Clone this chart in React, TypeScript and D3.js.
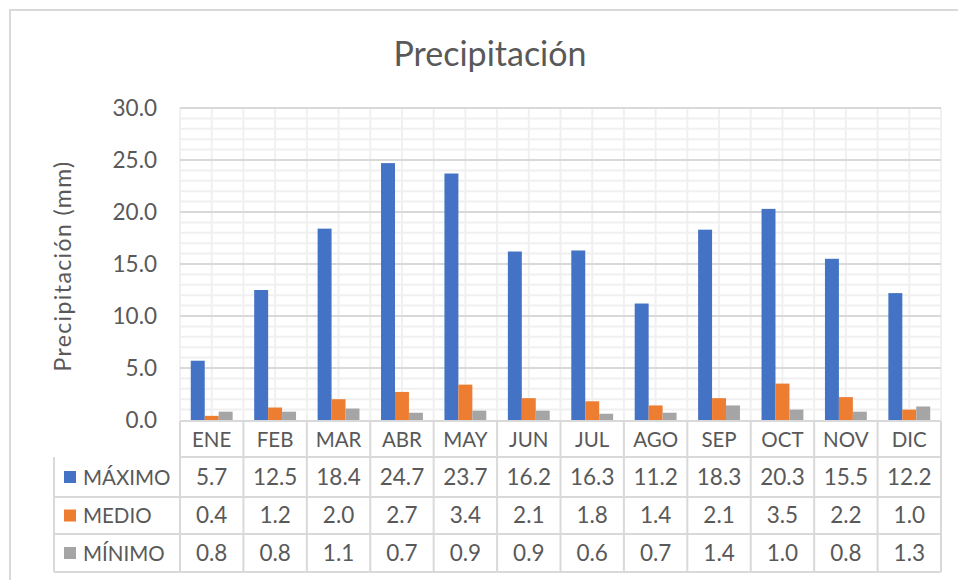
import React from "react";
import * as d3 from "d3";

const months = ["ENE","FEB","MAR","ABR","MAY","JUN","JUL","AGO","SEP","OCT","NOV","DIC"];
const maximo = [5.7,12.5,18.4,24.7,23.7,16.2,16.3,11.2,18.3,20.3,15.5,12.2];
const medio = [0.4,1.2,2.0,2.7,3.4,2.1,1.8,1.4,2.1,3.5,2.2,1.0];
const minimo = [0.8,0.8,1.1,0.7,0.9,0.9,0.6,0.7,1.4,1.0,0.8,1.3];
const seriesNames = ["MÁXIMO","MEDIO","MÍNIMO"];
const yTicks = [0,5,10,15,20,25,30];

const W = 958, H = 580;
const FONT = "Lato, 'Open Sans', sans-serif";
const TXT = "#595959";
const colors = ["#4472C4","#ED7D31","#A5A5A5"];

export default function App() {
  const left = 180, right = 941, top = 108, bottom = 420;
  const x = d3.scaleBand<string>().domain(months).range([left, right]).paddingInner(0).paddingOuter(0);
  const y = d3.scaleLinear().domain([0, 30]).range([bottom, top]);
  const groupW = x.bandwidth() * 0.66;
  const xs = d3.scaleBand<number>().domain([0,1,2]).range([0, groupW]);
  const series = [maximo, medio, minimo];
  const minor = d3.range(0, 31, 1).filter(v => v % 5 !== 0);
  const rowY = [421, 457, 497, 534, 572];
  const tableLeft = 54;
  const numFS = 22.5, letFS = 20.5;

  return (
    <svg width={W} height={H} style={{ position: "absolute", left: 0, top: 0, background: "#fff" }} fontFamily={FONT}>
      <rect x={10} y={10} width={W + 10} height={H + 10} fill="#fff" stroke="#d9d9d9" strokeWidth={2} />
      <text x={490} y={66} textAnchor="middle" fontSize={34} fill={TXT}>Precipitación</text>
      <text transform={`translate(71,266) rotate(-90)`} textAnchor="middle" fontSize={23} letterSpacing={1.4} fill={TXT}>Precipitación (mm)</text>
      {minor.map(v => (
        <line key={"mh" + v} x1={left} x2={right} y1={y(v)} y2={y(v)} stroke="#f0f0f0" strokeWidth={2} />
      ))}
      {months.map((m) => (
        <g key={"v" + m}>
          <line x1={x(m)!} x2={x(m)!} y1={top} y2={bottom} stroke="#f0f0f0" strokeWidth={2} />
          <line x1={x(m)! + x.bandwidth() / 2} x2={x(m)! + x.bandwidth() / 2} y1={top} y2={bottom} stroke="#f0f0f0" strokeWidth={2} />
        </g>
      ))}
      <line x1={right} x2={right} y1={top} y2={bottom} stroke="#f0f0f0" strokeWidth={2} />
      {yTicks.filter(v => v > 0).map(v => (
        <line key={"mj" + v} x1={left} x2={right} y1={y(v)} y2={y(v)} stroke="#d9d9d9" strokeWidth={2} />
      ))}
      {yTicks.map(v => (
        <text key={"yt" + v} x={157} y={y(v) + 8} textAnchor="end" fontSize={numFS} fill={TXT}>{v.toFixed(1)}</text>
      ))}
      {series.map((s, si) => s.map((v, i) => {
        const bx = x(months[i])! + (x.bandwidth() - groupW) / 2 + xs(si)!;
        return <rect key={`b${si}-${i}`} x={bx} y={y(v)} width={xs.bandwidth()} height={y(0) - y(v)} fill={colors[si]} />;
      }))}
      {rowY.map((ry, ri) => (
        <line key={"tr" + ri} x1={ri < 2 ? left : tableLeft} x2={right} y1={ry} y2={ry} stroke="#d9d9d9" strokeWidth={2} />
      ))}
      <line x1={tableLeft} x2={tableLeft} y1={rowY[1]} y2={rowY[4]} stroke="#d9d9d9" strokeWidth={2} />
      {months.map(m => (
        <line key={"tv" + m} x1={x(m)!} x2={x(m)!} y1={rowY[0]} y2={rowY[4]} stroke="#d9d9d9" strokeWidth={2} />
      ))}
      <line x1={right} x2={right} y1={rowY[0]} y2={rowY[4]} stroke="#d9d9d9" strokeWidth={2} />
      {months.map(m => (
        <text key={"ml" + m} x={x(m)! + x.bandwidth() / 2} y={(rowY[0] + rowY[1]) / 2 + 8} textAnchor="middle" fontSize={letFS} fill={TXT}>{m}</text>
      ))}
      {series.map((s, si) => {
        const cy = (rowY[si + 1] + rowY[si + 2]) / 2;
        return (
          <g key={"row" + si}>
            <rect x={64} y={cy - 6} width={12} height={12} fill={colors[si]} />
            <text x={83} y={cy + 7.5} fontSize={letFS} fill={TXT}>{seriesNames[si]}</text>
            {s.map((v, i) => (
              <text key={i} x={x(months[i])! + x.bandwidth() / 2} y={cy + 7.5} textAnchor="middle" fontSize={numFS} fill={TXT}>{v.toFixed(1)}</text>
            ))}
          </g>
        );
      })}
    </svg>
  );
}
